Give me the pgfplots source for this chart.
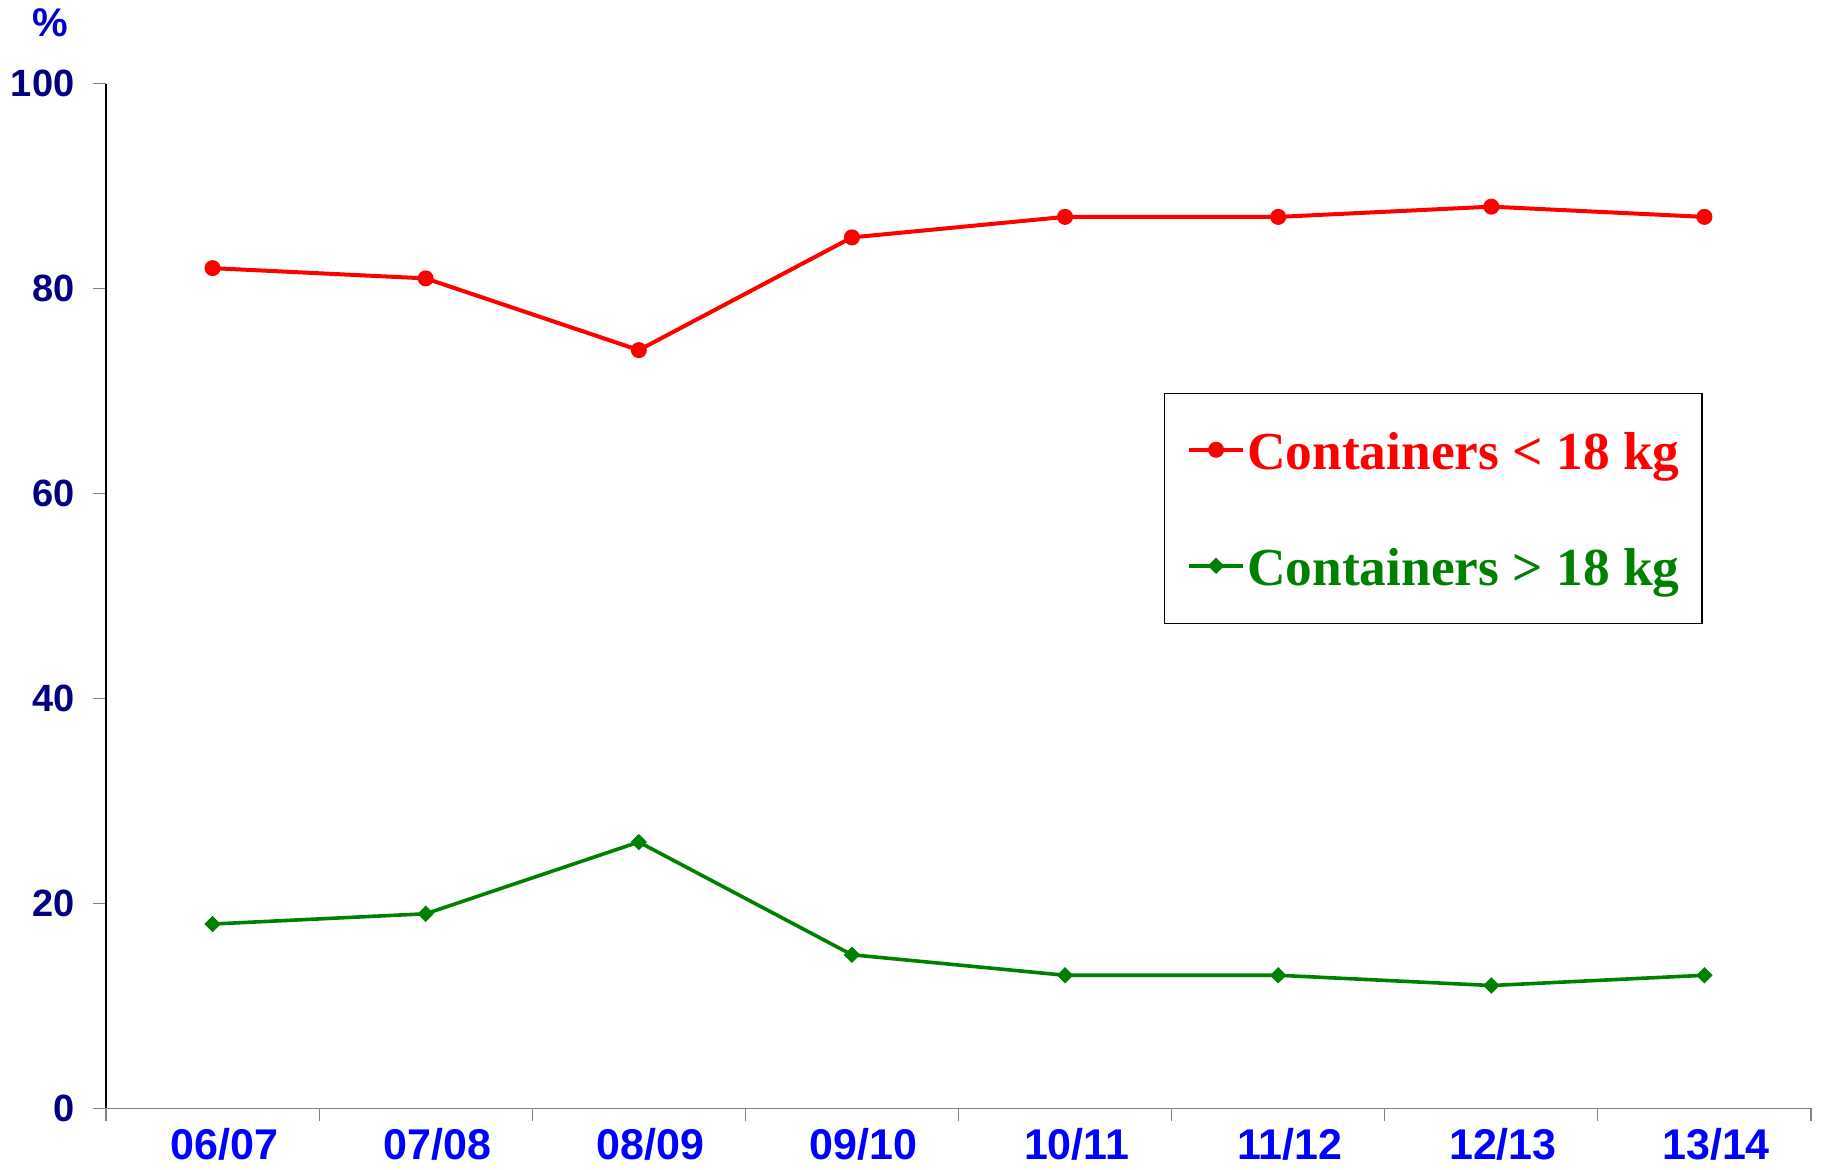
\documentclass[border=0pt]{standalone}
\usepackage{fontspec}
\setmainfont{Liberation Serif}
\newfontfamily\sansfont{Liberation Sans}
\usepackage{pgfplots}
\pgfplotsset{compat=1.18}

\definecolor{seriesred}{RGB}{255,0,0}
\definecolor{seriesgreen}{RGB}{0,128,0}
\definecolor{navyblue}{RGB}{0,0,128}
\definecolor{labelblue}{RGB}{0,0,255}
\definecolor{pctblue}{RGB}{0,0,204}
\definecolor{axisgray}{RGB}{128,128,128}

\begin{document}
\begin{tikzpicture}
\begin{axis}[
  width=852.5pt, height=512.4pt, scale only axis,
  xmin=-0.5, xmax=7.5, ymin=0, ymax=100,
  axis x line*=bottom, axis y line*=left,
  axis line style={-},
  x axis line style={draw=axisgray, line width=0.8pt},
  y axis line style={draw=black, line width=0.6pt},
  tick align=outside,
  major tick length=6.5pt,
  tick style={line width=0.6pt},
  xtick={-0.5,0.5,...,7.5},
  x tick label as interval,
  xticklabels={06/07,07/08,08/09,09/10,10/11,11/12,12/13,13/14},
  ytick={0,20,...,100},
  /pgf/number format/assume math mode=true,
  yticklabel style={font=\sansfont\bfseries\fontsize{19}{21}\selectfont, text=navyblue, xshift=-5.8pt},
  xticklabel style={font=\sansfont\bfseries\fontsize{21.5}{24}\selectfont, text=labelblue, xshift=5.8pt},
  legend style={at={(0.6205,0.698)}, anchor=north west, draw=black, line width=0.6pt,
    inner xsep=11.25pt, inner ysep=19pt, row sep=39pt, column sep=1pt,
    font=\bfseries\fontsize{26.7}{30}\selectfont,
    nodes={inner sep=0pt, text height=19pt, text depth=0pt}},
  legend cell align=left,
  legend image code/.code={
    \draw[#1, mark=none, yshift=0.5pt] (0pt,0pt) -- (27pt,0pt);
    \path[#1, yshift=0.5pt] plot[only marks] coordinates {(13.5pt,0pt)};
  },
]
\addplot[seriesred, line width=2pt, mark=*, mark size=3.7pt, mark options={solid, line width=0.6pt}]
  coordinates {(0,82) (1,81) (2,74) (3,85) (4,87) (5,87) (6,88) (7,87)};
\addlegendentry{\textcolor{seriesred}{Containers < 18 kg}}
\addplot[seriesgreen, line width=1.8pt, mark=square*, mark size=2.6pt, mark options={solid, rotate=45, line width=0.6pt}]
  coordinates {(0,18) (1,19) (2,26) (3,15) (4,13) (5,13) (6,12) (7,13)};
\addlegendentry{\textcolor{seriesgreen}{Containers > 18 kg}}
\end{axis}
\node[font=\sansfont\bfseries\fontsize{20}{22}\selectfont, text=pctblue] at (-28pt,543pt) {\%};
\pgfresetboundingbox
\path[use as bounding box] (-53pt,-30.75pt) rectangle (859pt,554.25pt);
\end{tikzpicture}
\end{document}
